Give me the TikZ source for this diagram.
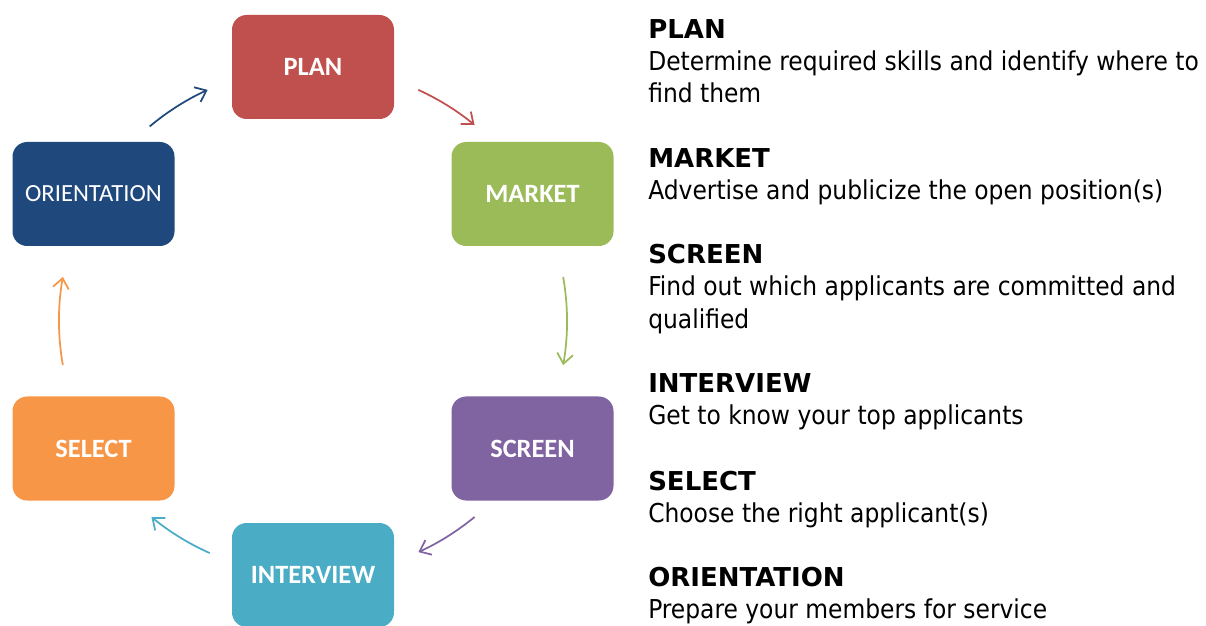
\documentclass[tikz,border=0pt]{standalone}
\usepackage{fontspec}
\setmainfont{Carlito}
\newfontfamily\descfont{DejaVu Sans Condensed}[BoldFont={DejaVu Sans Bold}]
\usetikzlibrary{arrows.meta,calc}

\definecolor{planred}{HTML}{C0504D}
\definecolor{marketgreen}{HTML}{9BBB59}
\definecolor{screenpurple}{HTML}{8064A2}
\definecolor{interviewteal}{HTML}{4BACC6}
\definecolor{selectorange}{HTML}{F79646}
\definecolor{orientblue}{HTML}{1F497D}

\begin{document}
\begin{tikzpicture}[x=0.75pt,y=0.75pt,
    stage/.style={rounded corners=11pt, minimum width=121.5pt, minimum height=78pt,
      inner sep=0pt, text=white, font=\fontsize{19.8}{22}\selectfont\bfseries},
    cyc/.style={line width=1.3pt, -{Straight Barb[length=7.5pt,width=12pt]}},
    desc/.style={anchor=north west, inner sep=0pt, align=left,
      font=\descfont\fontsize{19.5}{24.2}\selectfont}]
  \useasboundingbox (0,0) rectangle (1206,625);
  \coordinate (ctr) at (313,304);
  % Cycle boxes
  \node[stage, fill=planred] (plan) at (313,558) {PLAN};
  \node[stage, fill=marketgreen] (market) at (532.5,431) {MARKET};
  \node[stage, fill=screenpurple] (screen) at (532.5,176.5) {SCREEN};
  \node[stage, fill=interviewteal] (interview) at (313,50) {INTERVIEW};
  \node[stage, fill=selectorange] (select) at (93.5,176.5) {SELECT};
  \node[stage, fill=orientblue, font=\fontsize{18.5}{20}\selectfont] (orientation) at (93.5,431) {ORIENTATION};
  % Arrow starts on the circle
  \coordinate (a1) at ($(ctr)+(130:254)$);
  \coordinate (a2) at ($(ctr)+(65.5:254)$);
  \coordinate (a3) at ($(ctr)+(10:254)$);
  \coordinate (a4) at ($(ctr)+(-50.5:254)$);
  \coordinate (a5) at ($(ctr)+(-114:254)$);
  \coordinate (a6) at ($(ctr)+(-170:254)$);
  % Arrows
  \draw[cyc, orientblue] (a1) arc[start angle=130, end angle=114.5, radius=254];
  \draw[cyc, planred] (a2) arc[start angle=65.5, end angle=50.5, radius=254];
  \draw[cyc, marketgreen] (a3) arc[start angle=10, end angle=-10, radius=254];
  \draw[cyc, screenpurple] (a4) arc[start angle=-50.5, end angle=-65.5, radius=254];
  \draw[cyc, interviewteal] (a5) arc[start angle=-114, end angle=-129.5, radius=254];
  \draw[cyc, selectorange] (a6) arc[start angle=-170, end angle=-190, radius=254];
  % Descriptions
  \node[desc] (tplan) at (648,606) {\textbf{PLAN}\\Determine required skills and identify where to\\find them};
  \node[desc] (tmarket) at (648,477) {\textbf{MARKET}\\Advertise and publicize the open position(s)};
  \node[desc] (tscreen) at (648,381) {\textbf{SCREEN}\\Find out which applicants are committed and\\qualified};
  \node[desc] (tinterview) at (648,252) {\textbf{INTERVIEW}\\Get to know your top applicants};
  \node[desc] (tselect) at (648,154) {\textbf{SELECT}\\Choose the right applicant(s)};
  \node[desc] (torientation) at (648,58) {\textbf{ORIENTATION}\\Prepare your members for service};
\end{tikzpicture}
\end{document}
